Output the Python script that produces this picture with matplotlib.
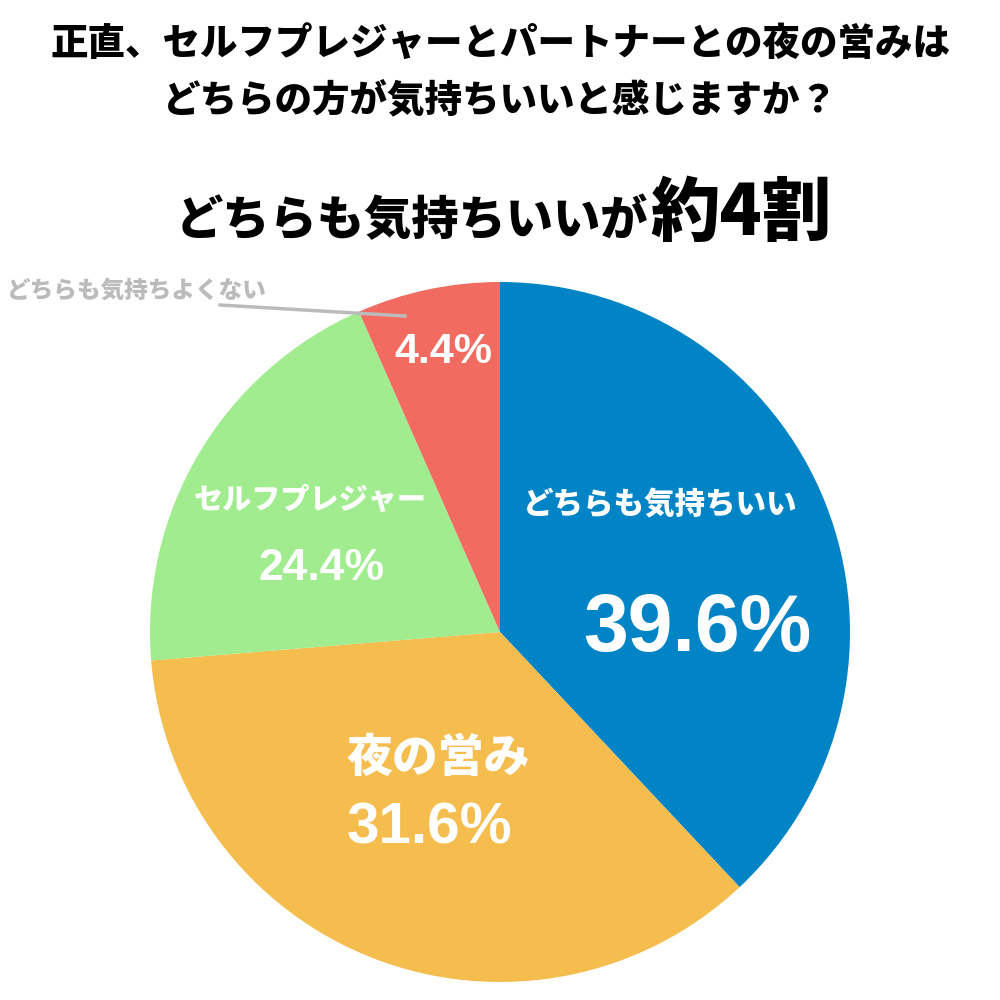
import matplotlib
matplotlib.use("Agg")
from matplotlib import pyplot as plt

labels = ["どちらも気持ちいい", "夜の営み", "セルフプレジャー", "どちらも気持ちよくない"]
pct_labels = ["39.6%", "31.6%", "24.4%", "4.4%"]
# wedge sizes as drawn in the picture (they differ a bit from the printed labels)
shares = [38.0, 35.7, 19.7, 6.6]
colors = ["#0084C6", "#F5BC4E", "#A0EC8F", "#F26B61"]

jp = ["Noto Sans CJK JP", "DejaVu Sans"]
num = ["Liberation Sans", "DejaVu Sans"]

fig = plt.figure(figsize=(10, 10), dpi=100)
ax = fig.add_axes([0, 0, 1, 1])

ax.pie(shares, colors=colors, startangle=90, counterclock=False,
       center=(500, 368), radius=350, frame=True)
ax.set_xlim(0, 1000)
ax.set_ylim(0, 1000)
ax.set_aspect("equal")
ax.axis("off")

# titles
ax.text(500, 955, "正直、セルフプレジャーとパートナーとの夜の営みは", family=jp,
        fontsize=27, fontweight="heavy", ha="center", va="center")
ax.text(500, 900, "どちらの方が気持ちいいと感じますか？", family=jp,
        fontsize=27, fontweight="heavy", ha="center", va="center")
ax.text(648, 765, "どちらも気持ちいいが", family=jp, fontsize=34,
        fontweight="heavy", ha="right", va="baseline")
ax.text(650, 765, "約4割", family=jp, fontsize=50,
        fontweight="heavy", ha="left", va="baseline")

# slice labels
ax.text(660, 495, labels[0], family=jp, fontsize=22, fontweight="heavy",
        color="white", ha="center", va="center")
ax.text(697, 370, pct_labels[0], family=num, fontsize=58, fontweight="bold",
        color="white", ha="center", va="center")
ax.text(438, 242, labels[1], family=jp, fontsize=33, fontweight="heavy",
        color="white", ha="center", va="center")
ax.text(429, 172, pct_labels[1], family=num, fontsize=42, fontweight="bold",
        color="white", ha="center", va="center")
ax.text(310, 500, labels[2], family=jp, fontsize=21, fontweight="heavy",
        color="white", ha="center", va="center")
ax.text(321, 432, pct_labels[2], family=num, fontsize=32, fontweight="bold",
        color="white", ha="center", va="center")
ax.text(443, 648, pct_labels[3], family=num, fontsize=31, fontweight="bold",
        color="white", ha="center", va="center")

# outside label for the small slice
ax.text(137, 710, labels[3], family=jp, fontsize=17, fontweight="heavy",
        color="#BBBBBB", ha="center", va="center")
ax.plot([220, 405], [695, 684], color="#BBBBBB", lw=2.5)

fig.savefig("out.png", dpi=100, facecolor="white")
